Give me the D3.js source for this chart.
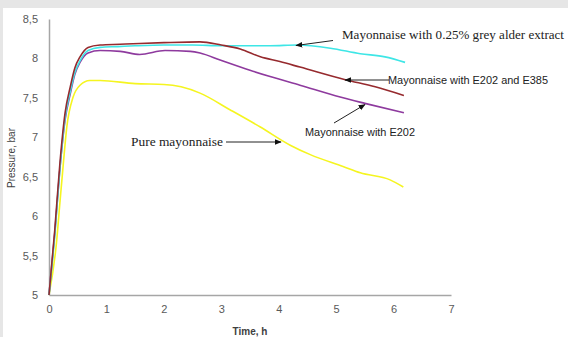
<!DOCTYPE html>
<html>
<head>
<meta charset="utf-8">
<script src="https://cdn.jsdelivr.net/npm/d3@7"></script>
<style>
  html, body { margin: 0; padding: 0; background: #fff; }
  svg { display: block; }
</style>
</head>
<body>
<svg id="chart" width="568" height="337"></svg>
<script>
// time (h) / pressure (bar)
const alderT = [0, 0.1, 0.19, 0.28, 0.37, 0.45, 0.54, 0.68, 0.89, 1.2, 1.5, 2.0, 2.5, 3.0, 3.5, 3.85, 4.32, 4.9, 5.42, 5.85, 6.2];
const alderP = [5, 5.75, 6.6, 7.25, 7.58, 7.82, 7.97, 8.1, 8.14, 8.15, 8.16, 8.17, 8.17, 8.16, 8.16, 8.16, 8.17, 8.13, 8.06, 8.02, 7.95];

const e385T = [0, 0.1, 0.19, 0.28, 0.37, 0.45, 0.54, 0.68, 0.89, 1.24, 1.58, 2.0, 2.63, 3.0, 3.33, 3.68, 4.02, 4.37, 5.16, 5.68, 6.18];
const e385P = [5, 5.82, 6.67, 7.31, 7.64, 7.88, 8.02, 8.14, 8.17, 8.18, 8.19, 8.2, 8.21, 8.17, 8.12, 8.02, 7.96, 7.89, 7.73, 7.64, 7.53];

const e202T = [0, 0.1, 0.19, 0.28, 0.37, 0.45, 0.54, 0.68, 0.89, 1.24, 1.58, 2.02, 2.46, 2.63, 2.98, 3.5, 3.85, 4.37, 5.07, 5.5, 6.18];
const e202P = [5, 5.78, 6.6, 7.22, 7.55, 7.8, 7.95, 8.07, 8.1, 8.09, 8.05, 8.1, 8.09, 8.07, 7.98, 7.85, 7.77, 7.66, 7.51, 7.43, 7.31];

const pureT = [0, 0.13, 0.19, 0.25, 0.31, 0.42, 0.54, 0.71, 0.89, 1.5, 2.0, 2.3, 2.63, 3.15, 3.68, 4.2, 4.55, 5.12, 5.42, 5.94, 6.17];
const pureP = [5, 5.66, 6.17, 6.67, 7.13, 7.51, 7.66, 7.72, 7.72, 7.68, 7.67, 7.64, 7.56, 7.35, 7.13, 6.9, 6.78, 6.63, 6.55, 6.46, 6.37];

const xTicks = [0, 1, 2, 3, 4, 5, 6, 7];
const yTicks = [5, 5.5, 6, 6.5, 7, 7.5, 8, 8.5];

const series = [
  { name: "pure", t: pureT, p: pureP, color: "#f5f520" },
  { name: "e202", t: e202T, p: e202P, color: "#8e3a9e" },
  { name: "alder", t: alderT, p: alderP, color: "#3ee6e6" },
  { name: "e385", t: e385T, p: e385P, color: "#962a2e" },
];

const svg = d3.select("#chart");

// grey frame of the screenshot
svg.append("rect").attr("x", 0).attr("y", 0).attr("width", 568).attr("height", 8).attr("fill", "#e6e6e6");
svg.append("rect").attr("x", 0).attr("y", 0).attr("width", 3).attr("height", 337).attr("fill", "#e6e6e6");

const x = d3.scaleLinear().domain([0, 7]).range([49, 451]);
const y = d3.scaleLinear().domain([5, 8.5]).range([295, 19]);

const comma = (d) => String(d).replace(".", ",");

const yAxis = svg.append("g")
  .attr("transform", "translate(49,0)")
  .call(d3.axisLeft(y).tickValues(yTicks).tickSize(0).tickPadding(11).tickFormat(comma));
const xAxis = svg.append("g")
  .attr("transform", "translate(0,295)")
  .call(d3.axisBottom(x).tickValues(xTicks).tickSize(0).tickPadding(10).tickFormat(comma));

for (const ax of [xAxis, yAxis]) {
  ax.select(".domain").attr("stroke", "#a6a6a6").attr("stroke-width", 1.5);
  ax.selectAll("text")
    .attr("fill", "#595959")
    .attr("font-family", "Liberation Sans, Arial, sans-serif")
    .attr("font-size", 11);
}

svg.append("text")
  .attr("transform", "translate(15,158) rotate(-90)")
  .attr("text-anchor", "middle")
  .attr("font-family", "Liberation Sans, Arial, sans-serif")
  .attr("font-size", 10)
  .attr("fill", "#404040")
  .text("Pressure, bar");

svg.append("text")
  .attr("x", 250)
  .attr("y", 335)
  .attr("text-anchor", "middle")
  .attr("font-family", "Liberation Sans, Arial, sans-serif")
  .attr("font-size", 10)
  .attr("font-weight", "bold")
  .attr("fill", "#404040")
  .text("Time, h");

const line = d3.line()
  .x((d) => x(d[0]))
  .y((d) => y(d[1]))
  .curve(d3.curveMonotoneX);

svg.append("g")
  .selectAll("path")
  .data(series)
  .join("path")
  .attr("d", (s) => line(d3.zip(s.t, s.p)))
  .attr("fill", "none")
  .attr("stroke", (s) => s.color)
  .attr("stroke-width", 1.6);

// annotations
const defs = svg.append("defs");
defs.append("marker")
  .attr("id", "head")
  .attr("viewBox", "0 0 10 10")
  .attr("refX", 9)
  .attr("refY", 5)
  .attr("markerWidth", 7)
  .attr("markerHeight", 7)
  .attr("orient", "auto")
  .append("path")
  .attr("d", "M0,1 L10,5 L0,9 Z")
  .attr("fill", "#111");

const notes = [
  { text: "Mayonnaise with 0.25% grey alder extract", tx: 342, ty: 39, len: 222, serif: true, x1: 333, y1: 40.5, x2: 296, y2: 45.5 },
  { text: "Mayonnaise with E202 and E385", tx: 388, ty: 84, len: 160, serif: false, x1: 389, y1: 80, x2: 345, y2: 80 },
  { text: "Mayonnaise with E202", tx: 305, ty: 136, len: 110, serif: false, x1: 334, y1: 123, x2: 365, y2: 104.5 },
  { text: "Pure mayonnaise", tx: 131, ty: 146, len: 92, serif: true, x1: 226, y1: 142, x2: 281, y2: 142 },
];

const noteG = svg.append("g");
noteG.selectAll("line")
  .data(notes)
  .join("line")
  .attr("x1", (d) => d.x1)
  .attr("y1", (d) => d.y1)
  .attr("x2", (d) => d.x2)
  .attr("y2", (d) => d.y2)
  .attr("stroke", "#222")
  .attr("stroke-width", 1)
  .attr("marker-end", "url(#head)");

noteG.selectAll("text")
  .data(notes)
  .join("text")
  .attr("x", (d) => d.tx)
  .attr("y", (d) => d.ty)
  .attr("font-family", (d) => d.serif ? "Liberation Serif, Times New Roman, serif" : "Liberation Sans, Arial, sans-serif")
  .attr("font-size", (d) => d.serif ? 12.5 : 10.5)
  .attr("fill", "#222")
  .attr("textLength", (d) => d.len)
  .attr("lengthAdjust", "spacingAndGlyphs")
  .text((d) => d.text);
</script>
</body>
</html>
